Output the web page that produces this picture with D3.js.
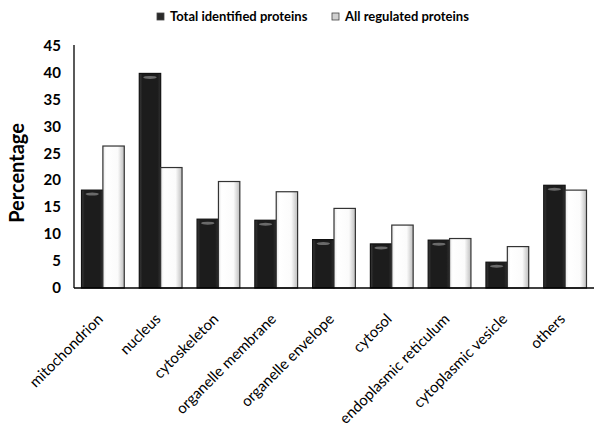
<!DOCTYPE html>
<html><head><meta charset="utf-8">
<script src="https://cdn.jsdelivr.net/npm/d3@7"></script>
<style>body{margin:0;background:#fff}svg{display:block}</style>
</head><body>
<svg id="c" width="600" height="437"></svg>
<script>
const categories = ["mitochondrion","nucleus","cytoskeleton","organelle membrane","organelle envelope","cytosol","endoplasmic reticulum","cytoplasmic vesicle","others"];
const seriesNames = ["Total identified proteins","All regulated proteins"];
const totalIdentified = [18.2, 39.9, 12.8, 12.6, 9.0, 8.2, 8.9, 4.8, 19.1];
const allRegulated = [26.4, 22.4, 19.8, 17.9, 14.8, 11.7, 9.2, 7.7, 18.2];
const yTicks = [0,5,10,15,20,25,30,35,40,45];

const svg = d3.select("#c");
const m = {l:74, r:594, t:46, b:288};
const x = d3.scaleBand().domain(categories).range([m.l, m.r]).paddingInner(0.26).paddingOuter(0.13);
const xs = d3.scaleBand().domain(seriesNames).range([0, x.bandwidth()]);
const y = d3.scaleLinear().domain([0,45]).range([m.b, m.t]);

const defs = svg.append("defs");
const gd = defs.append("linearGradient").attr("id","gDark");
[["0%","#3a3a3a"],["15%","#1c1c1c"],["85%","#1c1c1c"],["100%","#303030"]].forEach(s=>gd.append("stop").attr("offset",s[0]).attr("stop-color",s[1]));
const gw = defs.append("linearGradient").attr("id","gWhite");
[["0%","#e6e6e6"],["15%","#ffffff"],["70%","#fbfbfb"],["100%","#bdbdbd"]].forEach(s=>gw.append("stop").attr("offset",s[0]).attr("stop-color",s[1]));

const fills = ["url(#gDark)","url(#gWhite)"];
const series = [totalIdentified, allRegulated];

svg.append("line").attr("x1",m.l).attr("x2",m.l).attr("y1",m.t-1).attr("y2",m.b).attr("stroke","#000").attr("stroke-width",1.3);

series.forEach((vals,si)=>{
  const g = svg.append("g");
  g.selectAll("rect").data(categories).join("rect")
    .attr("x", d=>x(d)+xs(seriesNames[si]))
    .attr("y", (d,i)=>y(series[si][i]))
    .attr("width", xs.bandwidth())
    .attr("height", (d,i)=>y(0)-y(series[si][i]))
    .attr("fill", fills[si])
    .attr("stroke", si===0 ? "#111" : "#333")
    .attr("stroke-width", 1.2);
  if(si===0){
    g.selectAll("ellipse").data(categories).join("ellipse")
      .attr("cx", d=>x(d)+xs.bandwidth()/2)
      .attr("cy", (d,i)=>y(series[0][i])+4)
      .attr("rx", xs.bandwidth()/2-4).attr("ry",1.5)
      .attr("fill","#6a6a6a");
  }
});

svg.append("line").attr("x1",m.l).attr("x2",m.r).attr("y1",m.b).attr("y2",m.b).attr("stroke","#000").attr("stroke-width",1.3);

svg.append("g").selectAll("text").data(yTicks).join("text")
  .attr("x",61).attr("y",d=>y(d)+5)
  .attr("text-anchor","end")
  .attr("font-family","Lato, sans-serif").attr("font-weight","bold").attr("font-size",15)
  .text(d=>d);

svg.append("text").attr("transform","translate(24,173) rotate(-90)")
  .attr("text-anchor","middle")
  .attr("font-family","Lato, sans-serif").attr("font-weight","bold").attr("font-size",20)
  .text("Percentage");

svg.append("g").selectAll("text").data(categories).join("text")
  .attr("transform", d=>`translate(${x(d)+x.bandwidth()/2+1},${m.b+32}) rotate(-45)`)
  .attr("text-anchor","end")
  .attr("font-family","Lato, sans-serif").attr("font-size",15)
  .text(d=>d);

const leg = [[157,13],[332,13]];
const legText = [170,345];
seriesNames.forEach((n,i)=>{
  svg.append("rect").attr("x",leg[i][0]).attr("y",leg[i][1]).attr("width",7).attr("height",7)
    .attr("fill", i===0?"#2a2a2a":"#d0d0d0").attr("stroke","#444").attr("stroke-width",0.8);
  svg.append("text").attr("x",legText[i]).attr("y",21)
    .attr("font-family","Lato, sans-serif").attr("font-weight","bold").attr("font-size",13)
    .text(n);
});
</script>
</body></html>
